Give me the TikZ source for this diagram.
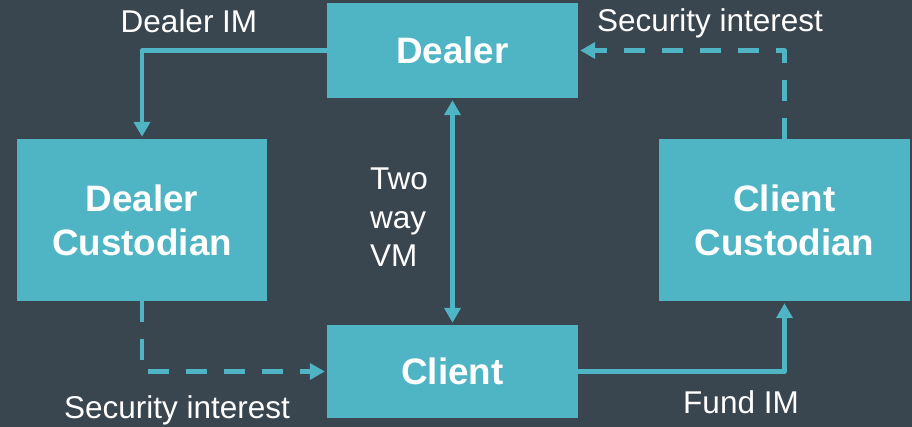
\documentclass[tikz,border=0pt]{standalone}
\usepackage{fontspec}
\setmainfont{Liberation Sans}
\usetikzlibrary{arrows.meta}
\definecolor{bgc}{HTML}{39454F}
\definecolor{teal}{HTML}{4FB4C4}
\definecolor{txt}{HTML}{FFFFFF}
\tikzset{
  box/.style={fill=teal, draw=none, inner sep=0pt, align=center, text=txt,
    font=\fontsize{36.8}{44}\selectfont\bfseries},
  lbl/.style={inner sep=0pt, text=txt, font=\fontsize{31.5}{38.5}\selectfont},
  conn/.style={draw=teal, line width=4.3pt, line join=round,
    -{Triangle[width=16pt,length=15pt]}, shorten >=2pt},
  dconn/.style={conn, dash pattern=on 21pt off 17pt},
  biconn/.style={conn, {Triangle[width=16pt,length=15pt]}-{Triangle[width=16pt,length=15pt]}, shorten <=2pt}
}
\begin{document}
\begin{tikzpicture}[x=1pt,y=-1pt]
\fill[bgc] (0,0) rectangle (912,427);
\useasboundingbox (0,0) rectangle (912,427);
\node[box, minimum width=251pt, minimum height=95pt] (D) at (452.5,50.5) {Dealer};
\node[box, minimum width=250pt, minimum height=162pt] (DC) at (142,220) {Dealer\\Custodian};
\node[box, minimum width=251pt, minimum height=162pt] (CC) at (784.5,220) {Client\\Custodian};
\node[box, minimum width=251pt, minimum height=93pt] (C) at (452.5,371.5) {Client};
\draw[conn] (D.west) -| (DC.north);
\draw[dconn] (DC.south) |- (C.west);
\draw[conn] (C.east) -| (CC.south);
\draw[dconn] (CC.north) |- (D.east);
\draw[biconn] (D.south) -- (C.north);
\node[lbl, anchor=base] (l1) at (189,33) {Dealer IM};
\node[lbl, anchor=base] (l2) at (710,32) {Security interest};
\node[lbl, anchor=base] (l3) at (177,418) {Security interest};
\node[lbl, anchor=base] (l4) at (741,413) {Fund IM};
\node[lbl, anchor=north west, align=left] (l5) at (370,168) {Two\\way\\VM};
\end{tikzpicture}
\end{document}
